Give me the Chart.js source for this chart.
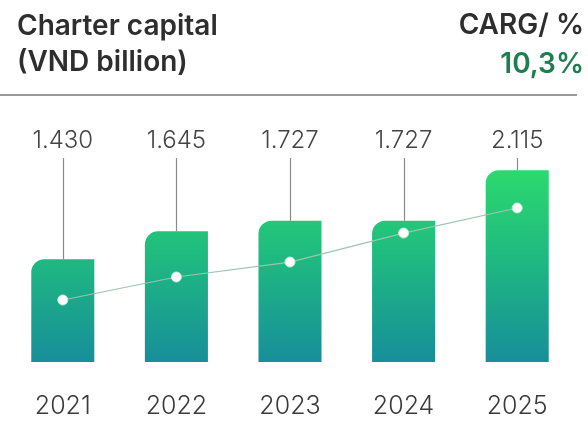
<!DOCTYPE html>
<html>
<head>
<meta charset="utf-8">
<script src="https://cdn.jsdelivr.net/npm/chart.js@4.4.1/dist/chart.umd.min.js"></script>
<style>
  html, body { margin: 0; padding: 0; background: #ffffff; }
  #wrap { position: relative; width: 588px; height: 425px; }
  canvas { display: block; }
</style>
</head>
<body>
<div id="wrap"><canvas id="chart" width="588" height="425"></canvas></div>
<script>
// Charter capital by year, VND billion
const years = ['2021', '2022', '2023', '2024', '2025'];
const capital = [1430, 1645, 1727, 1727, 2115];
const valueLabels = ['1.430', '1.645', '1.727', '1.727', '2.115'];
// Growth trend marker line drawn across the bars
const trendLine = [1117, 1294, 1409, 1632, 1825];

const titleLine1 = 'Charter capital';
const titleLine2 = '(VND billion)';
const cagrLabel = 'CARG/ %';
const cagrValue = '10,3%';

const FONT = 'Inter, "Open Sans", sans-serif';

function barGradient(context) {
  const chart = context.chart;
  const { ctx, chartArea } = chart;
  if (!chartArea) return '#22c07a';
  const el = context.element;
  let top = chartArea.top, bottom = chartArea.bottom;
  if (el && el.y !== undefined && el.base !== undefined) {
    top = el.y; bottom = el.base;
  }
  const g = ctx.createLinearGradient(0, top, 0, bottom);
  g.addColorStop(0, '#2fe06a');
  g.addColorStop(0.5, '#1fba80');
  g.addColorStop(1, '#178e9a');
  return g;
}

// Title block, CAGR note and divider line
const headerPlugin = {
  id: 'header',
  afterDraw(chart) {
    const ctx = chart.ctx;
    ctx.save();
    ctx.textBaseline = 'alphabetic';
    ctx.fillStyle = '#2e2e2e';
    ctx.font = '600 28px ' + FONT;
    ctx.textAlign = 'left';
    ctx.fillText(titleLine1, 17, 35);
    ctx.fillText(titleLine2, 17, 71);
    ctx.textAlign = 'right';
    ctx.fillText(cagrLabel, 584, 34);
    ctx.fillStyle = '#1f7d50';
    ctx.fillText(cagrValue, 584, 73);
    ctx.strokeStyle = '#9a9a9a';
    ctx.lineWidth = 2;
    ctx.beginPath();
    ctx.moveTo(0, 95);
    ctx.lineTo(577, 95);
    ctx.stroke();
    ctx.restore();
  }
};

// Value labels in a row above the bars, each tied to its bar by a leader line
const leaderPlugin = {
  id: 'leaders',
  afterDatasetsDraw(chart) {
    const ctx = chart.ctx;
    const meta = chart.getDatasetMeta(1);
    ctx.save();
    ctx.font = '300 24px ' + FONT;
    ctx.fillStyle = '#444444';
    ctx.textAlign = 'center';
    ctx.textBaseline = 'alphabetic';
    ctx.strokeStyle = '#8a8a8a';
    ctx.lineWidth = 1.2;
    meta.data.forEach((bar, i) => {
      const x = Math.round(bar.x) + 0.5;
      ctx.fillText(valueLabels[i], bar.x, 148);
      ctx.beginPath();
      ctx.moveTo(x, 158);
      ctx.lineTo(x, bar.y);
      ctx.stroke();
    });
    ctx.restore();
  }
};

new Chart(document.getElementById('chart'), {
  data: {
    labels: years,
    datasets: [
      {
        type: 'line',
        data: trendLine,
        borderColor: '#9cc4ae',
        borderWidth: 1.2,
        pointRadius: 5,
        pointBackgroundColor: '#ffffff',
        pointBorderColor: 'rgba(200,240,215,0.9)',
        pointBorderWidth: 1,
        tension: 0,
        order: 0
      },
      {
        type: 'bar',
        data: capital,
        backgroundColor: barGradient,
        borderRadius: { topLeft: 13, topRight: 0, bottomLeft: 0, bottomRight: 0 },
        borderSkipped: false,
        barPercentage: 0.555,
        categoryPercentage: 1,
        order: 1
      }
    ]
  },
  options: {
    responsive: false,
    animation: false,
    events: [],
    layout: { padding: { left: 5, right: 14, top: 150, bottom: 0 } },
    plugins: {
      legend: { display: false },
      tooltip: { enabled: false }
    },
    scales: {
      x: {
        grid: { display: false },
        border: { display: false },
        ticks: {
          color: '#3a3a3a',
          font: { family: FONT, size: 25, weight: '300' },
          padding: 21
        },
        afterFit(scale) { scale.height = 63; }
      },
      y: {
        display: false,
        min: 640,
        max: 2271
      }
    }
  },
  plugins: [headerPlugin, leaderPlugin]
});
</script>
</body>
</html>
